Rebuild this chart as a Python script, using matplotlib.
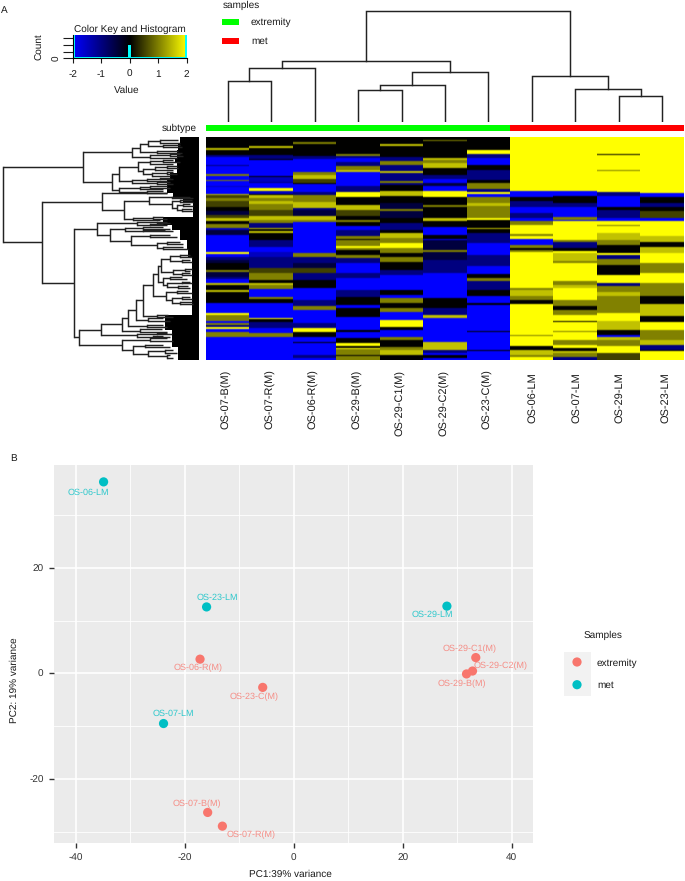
#!/usr/bin/env python3
"""Two panel figure: heatmap with dendrograms (A) and PCA scatter (B)."""
import numpy as np
import matplotlib
matplotlib.use("Agg")
import matplotlib.pyplot as plt
from matplotlib.colors import LinearSegmentedColormap, Normalize
from matplotlib.patches import Rectangle

plt.rcParams["font.family"] = ["Liberation Sans", "DejaVu Sans"]
plt.rcParams["axes.unicode_minus"] = False
plt.rcParams["text.hinting"] = "no_hinting"
plt.rcParams["text.hinting_factor"] = 1

W, H = 685, 881

sample_names = ["OS-07-B(M)", "OS-07-R(M)", "OS-06-R(M)", "OS-29-B(M)", "OS-29-C1(M)", "OS-29-C2(M)",
                "OS-23-C(M)", "OS-06-LM", "OS-07-LM", "OS-29-LM", "OS-23-LM"]
n_extremity = 7

# code + row where the band ends, top to bottom, one string per sample
levels = {"b": -2, "u": -1.5, "n": -1, "d": -0.5, "k": 0, "m": 0.5, "o": 1, "l": 1.5, "y": 2}
heat_rows = 223
col_bands = [
    "k11 l13 k18 n20 b28 n29 b37 o39 b43 o44 b49 u50 b57 l58 m61 o64 m70 k74 d78 m81 l84 k87 o91 u93 d98 b115 y117 "
    "b120 n123 d126 k133 o135 d140 n142 b146 l148 k153 l155 k166 b176 y178 o184 b186 o188 n190 y192 b195 o200 b223",
    "k9 l11 k18 n22 k23 b39 k40 u45 n46 b51 y54 u57 k58 l61 o64 l67 o73 m79 l83 o86 n91 l92 k94 l96 k103 n110 b115 "
    "u120 n131 m136 o143 k146 l148 o152 b160 o162 k166 b181 y182 k185 n191 b196 o200 b223",
    "k5 o7 k19 n22 b35 o38 l42 m46 k47 b55 n58 o65 l71 n73 d79 l83 o85 b116 o120 n126 d131 m136 n143 k151 b163 n169 "
    "o173 b186 n191 y195 k200 b205 k206 b218 n221 b223",
    "k17 o19 n21 b25 n29 o33 l35 b49 n55 y60 k68 l73 m79 k83 o85 k89 b93 n99 o102 k103 o109 y111 o113 k118 o121 n126 "
    "b136 n141 b153 n160 k168 b171 k180 b193 k195 b201 k206 y209 k211 y212 o218 k219 o223",
    "k7 l9 k20 n24 o28 n34 l36 n44 o46 n48 k54 l59 k66 d72 o74 d81 k86 n93 k96 l101 o106 y111 o116 k120 o125 k133 "
    "n138 b153 k158 b161 o166 k171 o175 b183 y190 k193 b200 o203 k210 o213 l218 k223",
    "k3 o4 k21 l23 o26 l31 k38 n42 b46 d49 b54 y60 k68 o70 k81 l84 k90 b98 k102 b103 d113 o115 d123 n136 b161 k171 "
    "n178 l181 b205 l213 n216 b218 k221 b223",
    "k13 y17 n21 b28 k33 n43 k46 o52 n55 y57 b60 o66 l69 o81 y83 k91 l92 k96 n106 b118 n129 b137 k141 o144 n153 k159 "
    "b166 k168 b194 k195 b213 k214 b223",
    "y54 b60 k64 n70 b76 n81 b84 o88 y97 o99 y102 b108 o111 k113 o115 y151 o153 l159 o163 k167 y198 o199 y209 k213 "
    "l218 o220 y223",
    "y54 b59 k66 n70 b80 o83 b84 y103 o105 n111 k114 y116 l124 o126 y144 o148 l151 y163 o169 k173 o178 y184 k185 y194 "
    "o195 y203 o208 y211 k214 l216 o220 n223",
    "y17 k18 y33 o34 y55 n59 b70 k73 n81 b84 y88 o89 y96 l103 o108 k116 y118 n122 o128 k138 y146 n149 o155 l159 o176 "
    "y184 l193 k198 b200 l203 o209 y216 m223",
    "y56 b60 k66 n70 k74 m81 b84 y99 l105 k110 l116 y126 o136 y146 o159 k167 l179 k185 y193 o203 l208 n213 k214 y223",
]

# top dendrogram: pairs to join (scipy style ids, new nodes start at 11) and heights
col_merges = [(0, 1, 40.4), (11, 2, 53.7), (3, 4, 31.4), (13, 5, 36.4), (14, 6, 50.0), (12, 15, 61.0),
              (9, 10, 26.0), (8, 17, 32.4), (7, 18, 45.4), (16, 19, 110.4)]

# row dendrogram: (height, child, child) and a tip is (height, row)
row_top = (250,
           (397,
            (420,
             (445, (480, (535, 30), (540, 38)), (490, (540, 44), (545, 50))),
             (470, (535, 62), (545, 70))),
            (450, (510, (540, 72), (550, 78)), (530, 84))),
           (335,
            (358,
             (415,
              (450, (490, (520, 90), (540, 95)), (520, 101)),
              (430,
               (465, (500, (530, 108), (535, 114)), (520, 120)),
               (455, (500, (520, 127), (530, 131)), (510, 137)))),
             (397,
              (440, (480, (510, 143), (520, 148)), (500, 152)),
              (470, (510, 156), (520, 162)))),
            (358,
             (420, (450, (500, 168), (510, 173)), (490, 177)),
             (440, (490, 182), (500, 188)))))

row_middle = (307,
              (500, 190),
              (373,
               (447,
                (515, (570, 200), (580, 204)),
                (515,
                 (540, (575, 210), (580, 216)),
                 (530,
                  (550, (570, 222), (580, 228)),
                  (545, (575, 236), (580, 244))))),
               (400, (460, (490, 262), (500, 266)), (480, 270))))

row_upper_low = (290,
                 (410,
                  (470, (500, 275), (510, 278)),
                  (450, (490, 282), (500, 286))),
                 (330,
                  (375,
                   (430, (490, 292), (510, 296)),
                   (430, (495, 300), (520, 304))),
                  (393,
                   (450, (510, 315), (530, 322)),
                   (470,
                    (500, (540, 335), (550, 341)),
                    (490, (550, 350), (565, 358))))))

row_comb = (460,
            (475,
             (483,
              (510,
               (540, (570, 375), (575, 382)),
               (545, (570, 390), (575, 397))),
              (520,
               (555, (575, 418), (570, 424)),
               (545, (570, 430), (575, 436)))),
             (490,
              (510, (545, 442), (560, 448)),
              (500,
               (545, (570, 455), (575, 460)),
               (535, (565, 468), (570, 474))))),
            (497,
             (530, (565, 482), (575, 488)),
             (515,
              (545, (570, 500), (575, 506)),
              (540, (575, 515), (580, 522)))))

row_bottom = (238,
              (303,
               (365,
                (385,
                 (407,
                  (430, row_comb, (470, (505, 555), (520, 562))),
                  (445, (490, 565), (510, 572))),
                 (440, (490, 585), (500, 592))),
                (420, (485, 598), (500, 605))),
               (410,
                (470, (500, 608), (515, 613)),
                (460, (490, 618), (510, 622)))),
              (367,
               (450, (500, 625), (520, 632)),
               (400,
                (435, (490, 645), (510, 652)),
                (445,
                 (495, (520, 660), (530, 668)),
                 (500, (510, 675), (520, 683))))))

row_tree = (8, row_top, (125, row_middle, (222, row_upper_low, row_bottom)))

# left edge of the solid mass of leaves
mass_ends = [40, 60, 85, 100, 130, 150, 190, 200, 215, 262, 285, 300, 330, 360, 380, 555, 600, 650, 690]
mass_edges = [540, 535, 530, 525, 530, 510, 500, 520, 550, 578, 490, 515, 540, 560, 565, 575, 495, 515, 535]

# color key histogram
hist_edges = [-2, -1.93, -0.05, 0.05, 1.93, 2]
hist_counts = [1.0, 0.05, 0.57, 0.05, 1.0]

pc1 = [-15.8, -13.1, -17.2, 31.7, 33.4, 32.8, -5.7, -34.9, -23.9, 28.1, -16.0]
pc2 = [-26.35, -28.95, 2.7, -0.1, 3.0, 0.45, -2.65, 36.3, -9.5, 12.75, 12.6]
label_x = [-17.7, -7.8, -17.5, 30.8, 32.2, 37.9, -7.3, -37.7, -22.1, 25.5, -14.0]
label_y = [-24.7, -30.6, 1.0, -1.9, 4.6, 1.4, -4.5, 34.2, -7.6, 11.1, 14.3]

C_EXT = "#F8766D"
C_MET = "#00BFC4"
LINE = "#222222"


def px_axes(fig, left, top, right, bottom, **kw):
    return fig.add_axes([left / W, 1 - bottom / H, (right - left) / W, (bottom - top) / H], **kw)


def px_text(fig, x, y, s, **kw):
    kw.setdefault("va", "center")
    kw.setdefault("color", "#1a1a1a")
    return fig.text(x / W, 1 - y / H, s, **kw)


def expand_bands(bands):
    out = np.zeros(heat_rows)
    start = 0
    for band in bands.split():
        end = int(band[1:])
        out[start:end] = levels[band[0]]
        start = end
    return out


fig = plt.figure(figsize=(W / 100, H / 100), dpi=100, facecolor="white")

# heatmap, rows are softened a little so thin lines blend like in the source
heat = np.column_stack([expand_bands(b) for b in col_bands])
bby = LinearSegmentedColormap.from_list("bby", ["#0000FF", "#000000", "#FFFF00"])
rgb = bby(Normalize(-2, 2)(heat))[:, :, :3]
padded = np.concatenate([rgb[:1], rgb, rgb[-1:]])
soft = 0.2 * padded[:-2] + 0.6 * padded[1:-1] + 0.2 * padded[2:]
ax = px_axes(fig, 206, 137, 684, 360)
ax.imshow(soft, aspect="auto", interpolation="nearest")
ax.axis("off")

for i, name in enumerate(sample_names):
    x = 206 + (i + 0.5) * 478 / len(sample_names)
    shift = -1 if i < 7 else (1 if i < 10 else 3.5)
    top = 372 if name.endswith("LM") else 369.5
    px_text(fig, x + shift, top, name, rotation=90, ha="center", va="top", fontsize=7.7)

# subtype bar
ax = px_axes(fig, 206, 125, 684, 131)
ax.set_xlim(0, len(sample_names))
ax.set_ylim(0, 1)
ax.axvspan(0, n_extremity, color="#00FF00", lw=0)
ax.axvspan(n_extremity, len(sample_names), color="#FF0000", lw=0)
ax.axis("off")
px_text(fig, 197, 128, "subtype", ha="right", fontsize=7.2)

# column dendrogram
ax = px_axes(fig, 206, 0, 684, 121.7)
ax.set_xlim(0, len(sample_names))
ax.set_ylim(0, 121.7)
ax.axis("off")
nodes = [(i + 0.5, 0.0) for i in range(len(sample_names))]
for a, b, h in col_merges:
    xa, ha = nodes[a]
    xb, hb = nodes[b]
    ax.plot([xa, xa, xb, xb], [ha, h, h, hb], color=LINE, lw=1.05, solid_joinstyle="miter")
    nodes.append(((xa + xb) / 2, h))

# row dendrogram
ax = px_axes(fig, 0, 137, 200, 360)
ax.set_xlim(0, 600)
ax.set_ylim(690, 21)
ax.axis("off")
start = 21
for end, edge in zip(mass_ends, mass_edges):
    ax.fill_betweenx([start, end], edge, 597, color="#000000", lw=0)
    start = end


def walk(node, parent):
    # tip: only the horizontal, inner node: the joining vertical too
    if len(node) == 2:
        y = node[1]
    else:
        ya = walk(node[1], node[0])
        yb = walk(node[2], node[0])
        ax.plot([node[0], node[0]], [ya, yb], color=LINE, lw=1.05, solid_capstyle="projecting")
        y = (ya + yb) / 2
    if parent is not None:
        ax.plot([parent, node[0]], [y, y], color=LINE, lw=1.05, solid_capstyle="butt")
    return y


walk(row_tree, None)

# color key
ax = px_axes(fig, 72.7, 35, 186.7, 58.3)
ax.imshow(np.linspace(-2, 2, 256)[None, :], extent=(-2, 2, 0, 1), aspect="auto", cmap=bby, vmin=-2, vmax=2)
ax.stairs(hist_counts, hist_edges, color="#00FFFF", lw=0, baseline=0, fill=True)
ax.set_xlim(-2, 2)
ax.set_ylim(0, 1)
for side in ["top", "right"]:
    ax.spines[side].set_visible(False)
ax.set_xticks([-2, -1, 0, 1, 2])
ax.set_xticklabels(["-2", "-1", "0", "1", "2"], fontsize=7.2)
ax.set_yticks([0, 0.29, 0.57, 0.86])
ax.set_yticklabels(["0", "", "", ""], fontsize=7.2, rotation=90, va="center")
ax.tick_params(axis="x", length=3.6, width=0.8, pad=4.5, colors="#1a1a1a")
ax.tick_params(axis="y", length=7, width=0.8, pad=1, colors="#1a1a1a")
px_text(fig, 129.5, 29, "Color Key and Histogram", ha="center", fontsize=7.15)
px_text(fig, 127, 90, "Value", ha="center", fontsize=7.2)
px_text(fig, 40, 47, "Count", rotation=90, ha="center", fontsize=7.2)

# sample legend
px_text(fig, 223, 5.5, "samples", fontsize=7.3)
for y, colour, name in [(21.5, "#00FF00", "extremity"), (41, "#FF0000", "met")]:
    fig.add_artist(Rectangle((222 / W, 1 - (y + 3) / H), 17 / W, 6 / H, transform=fig.transFigure,
                             facecolor=colour, edgecolor="none"))
    px_text(fig, 251, y + 0.5, name, fontsize=7.3)

# PCA panel
ax = px_axes(fig, 54, 465, 533, 843.3)
ax.set_facecolor("#EBEBEB")
ax.set_xlim(-44.0, 43.9)
ax.set_ylim(-32.2, 39.5)
for side in ax.spines.values():
    side.set_visible(False)
ax.set_xticks([-40, -20, 0, 20, 40])
ax.set_yticks([-20, 0, 20])
ax.set_xticks([-30, -10, 10, 30], minor=True)
ax.set_yticks([-30, -10, 10, 30], minor=True)
ax.grid(True, which="major", color="white", lw=1.2)
ax.grid(True, which="minor", color="white", lw=0.6)
ax.set_axisbelow(True)
ax.tick_params(which="minor", length=0)
ax.tick_params(which="major", length=3.5, width=1.0, colors="#333333", labelsize=7.1, pad=4)

colours = [C_EXT] * n_extremity + [C_MET] * (len(sample_names) - n_extremity)
ax.scatter(pc1, pc2, c=colours, s=44, linewidths=0, zorder=3)
for x, y, name, colour in zip(label_x, label_y, sample_names, colours):
    ax.text(x, y, name, color=colour, alpha=0.8, fontsize=6.2, ha="center", va="center", zorder=4)

px_text(fig, 290, 874, "PC1:39% variance", ha="center", fontsize=7.1)
px_text(fig, 14.5, 680, "PC2: 19% variance", rotation=90, ha="center", fontsize=7.1)

# PCA legend
px_text(fig, 584, 635, "Samples", fontsize=7.3)
leg = px_axes(fig, 564, 652, 590.7, 696)
leg.set_facecolor("#F2F2F2")
leg.set_xlim(564, 590.7)
leg.set_ylim(696, 652)
leg.set_xticks([])
leg.set_yticks([])
for side in leg.spines.values():
    side.set_visible(False)
leg.scatter([577, 577], [662, 684.7], c=[C_EXT, C_MET], s=44, linewidths=0)
px_text(fig, 597, 663, "extremity", fontsize=7.3)
px_text(fig, 597, 685, "met", fontsize=7.3)

px_text(fig, 1, 10, "A", fontsize=7.2)
px_text(fig, 10, 458.5, "B", fontsize=7.2)

fig.savefig("out.png", dpi=100, facecolor="white")
plt.close(fig)
